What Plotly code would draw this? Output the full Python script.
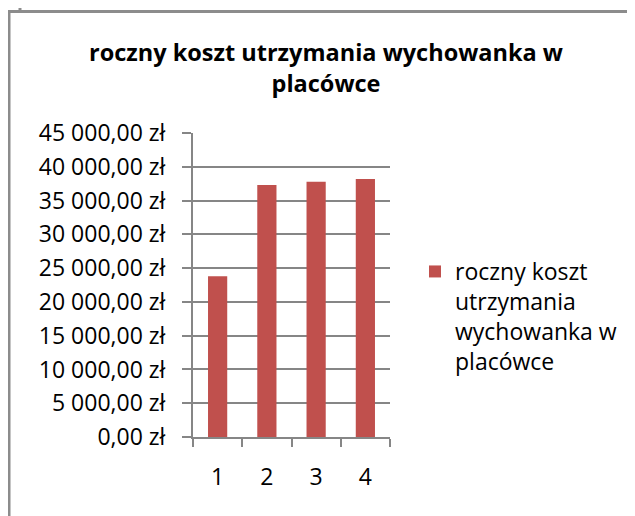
import plotly.graph_objects as go

# dane
kategorie = ["1", "2", "3", "4"]
koszt = [23800, 37300, 37800, 38200]
nazwa_serii = "roczny koszt<br>utrzymania<br>wychowanka w<br>placówce"
tytul = "<b>roczny koszt utrzymania wychowanka w<br>placówce</b>"

# strona ma 8px marginesu body, wiec figura jest mniejsza i przesunieta
OFF = 8
W, H = 635 - OFF, 516 - OFF
FONT = "Open Sans"
GRID = "#868686"


def px_x(p):
    return (p - OFF) / W


def px_y(p):
    return 1 - (p - OFF) / H


fig = go.Figure()
fig.add_trace(go.Bar(
    x=kategorie,
    y=koszt,
    name=nazwa_serii,
    marker=dict(color="#C0504D", line=dict(width=0)),
    showlegend=True,
))

# ramki okna wykresu (jak w arkuszu)
borders = [
    (9, 11, 9, 516),
    (8, 11.5, 635, 11.5),
    (20, 8, 20, 11),
    (633, 8, 633, 11),
]
for x0, y0, x1, y1 in borders:
    fig.add_shape(type="line", xref="paper", yref="paper",
                  x0=px_x(x0), y0=px_y(y0), x1=px_x(x1), y1=px_y(y1),
                  line=dict(color="#8c8c8c", width=3))

fig.update_layout(
    width=W, height=H,
    margin=dict(l=0, r=0, t=0, b=0),
    paper_bgcolor="white",
    plot_bgcolor="white",
    separators=", ",
    font=dict(family=FONT, size=23, color="black"),
    title=dict(text=tytul, x=px_x(326), xanchor="center",
               y=px_y(61), yanchor="top",
               font=dict(family=FONT, size=23.5, color="black")),
    bargap=0.61,
    legend=dict(x=px_x(415), y=px_y(250), xanchor="left", yanchor="top",
                valign="top", font=dict(family=FONT, size=23),
                bgcolor="rgba(0,0,0,0)"),
    xaxis=dict(
        domain=[px_x(193), px_x(390)],
        type="category",
        showline=True, linecolor=GRID, linewidth=2,
        ticks="outside", tickson="boundaries", ticklen=8, tickcolor=GRID,
        tickwidth=2, showgrid=False, zeroline=False,
        ticklabelstandoff=18, automargin=False,
    ),
    yaxis=dict(
        domain=[px_y(437), px_y(133)],
        range=[0, 45000], dtick=5000,
        tickformat=",.2f", ticksuffix=" zł",
        showline=True, linecolor=GRID, linewidth=2,
        ticks="outside", ticklen=9, tickcolor=GRID, tickwidth=2,
        showgrid=True, gridcolor=GRID, gridwidth=2, zeroline=False,
        ticklabelstandoff=12, automargin=False,
    ),
)

fig.write_html("out.html")
